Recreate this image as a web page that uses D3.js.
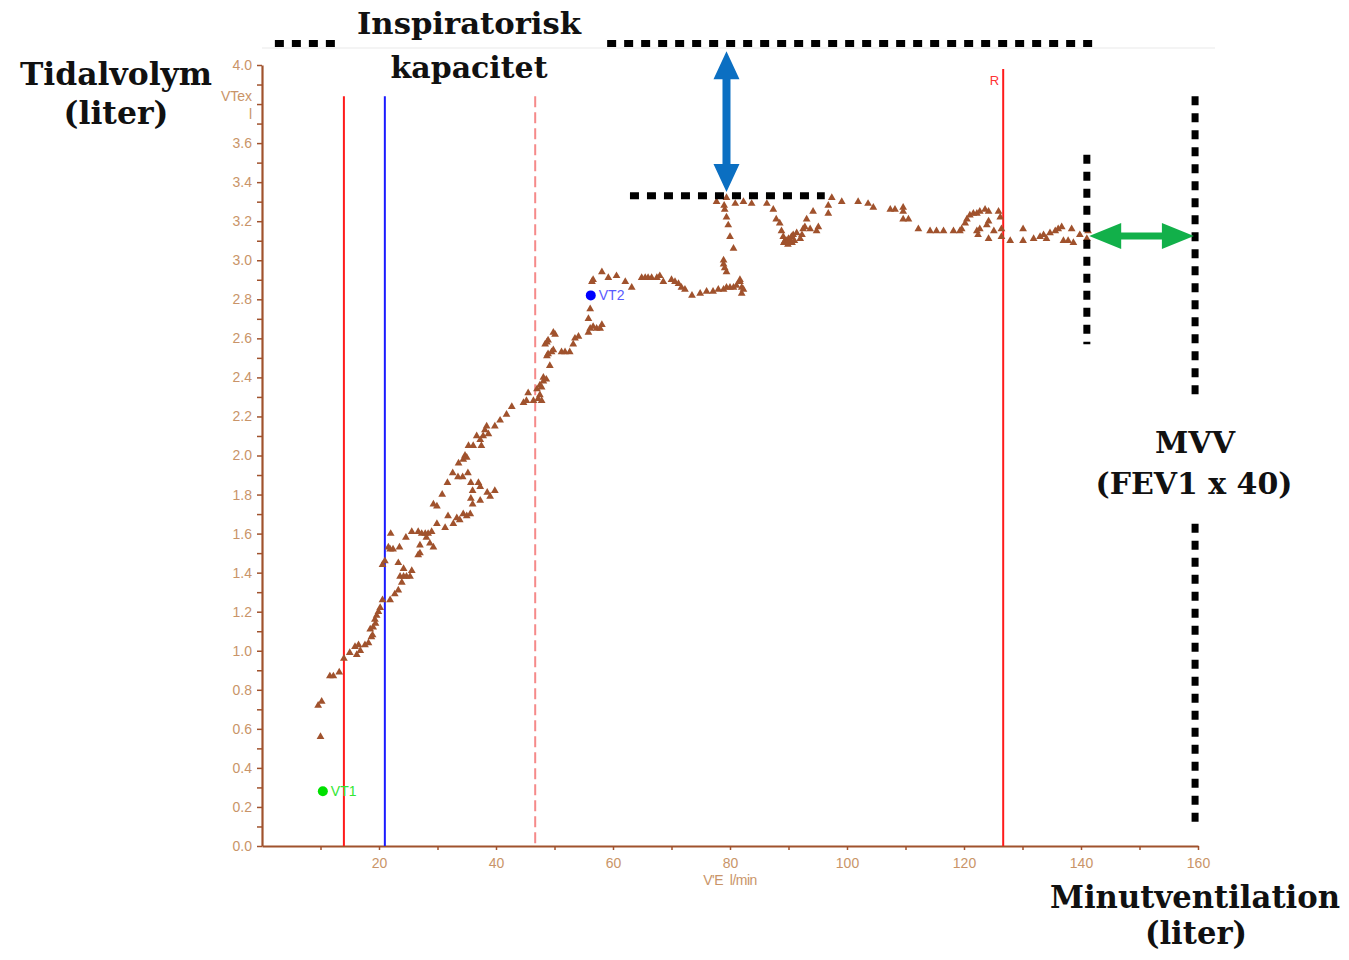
<!DOCTYPE html>
<html>
<head>
<meta charset="utf-8">
<script src="https://cdn.jsdelivr.net/npm/d3@7"></script>
<style>
  body { margin: 0; background: #fff; }
  svg { display: block; }
</style>
</head>
<body>
<svg id="chart" width="1349" height="960"></svg>
<script>
// V'E (l/min) and VTex (l) of every breath
const veValues = [
  10.0, 9.6, 10.2, 11.6, 12.2, 13.2, 14.0, 15.0, 15.9, 16.2, 16.5, 16.8, 17.6, 18.2, 18.7, 18.5, 18.9, 19.0, 19.3, 19.4,
  19.6, 19.9, 20.2, 20.6, 21.9, 22.7, 23.3, 23.9, 23.6, 24.2, 24.7, 25.3, 24.2, 25.6, 23.3, 20.6, 21.0, 21.9, 22.4, 21.6,
  23.5, 22.0, 24.6, 25.6, 26.7, 27.3, 27.9, 28.4, 29.0, 28.1, 28.7, 29.3, 27.0, 26.7, 27.0, 29.9, 31.3, 31.8, 32.7, 33.3,
  33.8, 34.4, 35.0, 35.6, 36.0, 29.3, 29.9,
  30.8, 31.7, 32.6, 33.5, 34.3, 35.2, 35.7, 36.0, 35.7, 37.0, 37.3, 38.5, 39.0, 39.8, 37.3,
  33.6, 34.4, 34.7, 35.0, 35.3, 36.1, 36.7, 37.3, 37.5, 37.8, 38.1, 38.4, 38.7,
  39.8, 40.7, 41.8, 42.7, 44.7, 45.2, 45.5,
  46.4, 47.2, 47.8, 47.5, 47.0, 47.5, 48.1, 48.6, 48.1, 47.8,
  49.2, 48.7, 48.9, 49.5, 49.8, 48.4, 48.7, 48.9, 49.8, 50.1, 51.2, 51.8, 52.6, 53.2, 53.5, 54.1, 55.8, 56.1, 56.6, 57.2,
  57.8, 58.1, 55.8, 56.1,
  56.4, 56.6, 58.1, 59.2, 60.6, 62.1, 63.2,
  64.9, 65.5, 66.0, 66.6, 67.5, 68.0, 68.6, 70.0, 70.6, 71.2, 71.7, 72.3, 73.5, 74.9, 76.0, 77.1, 78.0, 78.9, 79.4, 80.0,
  80.6, 81.1, 81.7, 82.0, 82.3, 82.0, 81.7,
  78.9, 79.1, 79.4, 78.9, 80.6, 80.0, 79.7, 79.4, 79.1, 79.0,
  77.7, 79.4, 80.9, 82.3, 83.7, 86.3, 87.4, 87.9, 88.5, 88.8, 89.1, 89.4, 89.7, 90.0, 90.3, 90.5, 90.8, 91.4, 92.0, 92.3,
  92.5, 92.8, 93.1, 93.7, 94.2, 94.8, 95.1, 89.2, 89.9, 90.6, 91.0,
  96.8, 96.8, 97.4, 99.1, 101.9, 103.6, 104.5, 107.4, 108.2, 109.6, 109.6, 109.6, 110.5, 112.2, 114.2, 115.3, 116.5, 118.2, 119.3, 119.6,
  120.2, 120.5, 121.0, 121.6, 122.2, 122.7, 123.6, 124.2, 125.9, 126.2, 126.4, 126.4, 127.9, 130.1, 130.1, 131.9, 133.0, 133.6, 134.1, 134.7,
  135.6, 136.1, 136.7, 138.4, 137.0, 137.8, 138.7, 141.0, 124.2, 123.9, 122.7, 122.2, 124.2, 125.1, 122.4, 139.8, 141.2
];
const vtValues = [
  0.56, 0.72, 0.74, 0.87, 0.87, 0.89, 0.96, 0.99, 1.02, 0.98, 1.03, 1.00, 1.03, 1.04, 1.07, 1.11, 1.08, 1.12, 1.16, 1.14,
  1.18, 1.20, 1.22, 1.26, 1.26, 1.29, 1.31, 1.35, 1.38, 1.38, 1.38, 1.38, 1.42, 1.41, 1.45, 1.44, 1.46, 1.52, 1.52, 1.53,
  1.53, 1.60, 1.58, 1.61, 1.61, 1.60, 1.60, 1.60, 1.61, 1.58, 1.55, 1.53, 1.54, 1.49, 1.50, 1.65, 1.63, 1.69, 1.65, 1.68,
  1.67, 1.70, 1.69, 1.70, 1.75, 1.75, 1.74,
  1.80, 1.86, 1.91, 1.89, 1.89, 1.91, 1.86, 1.82, 1.78, 1.86, 1.77, 1.81, 1.79, 1.82, 1.84,
  1.96, 1.98, 2.00, 1.99, 2.05, 2.05, 2.10, 2.08, 2.05, 2.10, 2.13, 2.15, 2.11,
  2.15, 2.18, 2.21, 2.25, 2.27, 2.28, 2.32,
  2.28, 2.29, 2.28, 2.31, 2.34, 2.36, 2.38, 2.39, 2.40, 2.35,
  2.46, 2.51, 2.52, 2.53, 2.54, 2.57, 2.58, 2.59, 2.63, 2.62, 2.53, 2.53, 2.53, 2.57, 2.60, 2.61, 2.63, 2.65, 2.66, 2.65,
  2.65, 2.67, 2.70, 2.75,
  2.89, 2.90, 2.94, 2.91, 2.92, 2.89, 2.86,
  2.91, 2.91, 2.91, 2.91, 2.91, 2.92, 2.89, 2.90, 2.89, 2.88, 2.86, 2.85, 2.82, 2.83, 2.84, 2.84, 2.85, 2.85, 2.86, 2.86,
  2.86, 2.87, 2.89, 2.86, 2.85, 2.83, 2.90,
  2.98, 2.96, 2.94, 3.00, 3.06, 3.12, 3.18, 3.22, 3.26, 3.28,
  3.30, 3.32, 3.29, 3.30, 3.29, 3.29, 3.26, 3.21, 3.19, 3.15, 3.12, 3.10, 3.10, 3.11, 3.10, 3.12, 3.13, 3.14, 3.11, 3.13,
  3.16, 3.17, 3.21, 3.16, 3.25, 3.15, 3.17, 3.09, 3.08, 3.09, 3.10,
  3.24, 3.28, 3.32, 3.30, 3.30, 3.29, 3.27, 3.26, 3.26, 3.27, 3.25, 3.21, 3.21, 3.16, 3.15, 3.15, 3.15, 3.15, 3.15, 3.16,
  3.19, 3.21, 3.23, 3.24, 3.24, 3.25, 3.26, 3.25, 3.25, 3.22, 3.16, 3.12, 3.10, 3.16, 3.10, 3.11, 3.12, 3.13, 3.11, 3.14,
  3.15, 3.16, 3.17, 3.16, 3.10, 3.10, 3.09, 3.11, 3.20, 3.18, 3.16, 3.15, 3.11, 3.15, 3.13, 3.13, 3.15
];

// vertical marker lines (V'E), top in VTex
const markerNames = ["VT1 line", "VT2 line", "RC", "R"];
const markerVe = [14, 21, 46.7, 126.7];
const markerTop = [3.84, 3.84, 3.84, 3.98];

// threshold points
const pointNames = ["VT1", "VT2"];
const pointVe = [10.4, 56.2];
const pointVt = [0.28, 2.82];

const xTicks = d3.range(10, 161, 10);
const yTicks = d3.range(0, 41).map(d => d / 10);

const svg = d3.select("#chart");
const x = d3.scaleLinear().domain([0, 160]).range([262, 1198]);
const y = d3.scaleLinear().domain([0, 4]).range([846, 65]);

const axisColor = "#a0522d", labelColor = "#c99468";
const sans = "Liberation Sans, Arial, sans-serif";

// faint frame line at the top of the original chart picture
svg.append("line")
    .attr("x1", 262).attr("x2", 1215).attr("y1", 48).attr("y2", 48)
    .attr("stroke", "#f0f0f0").attr("stroke-width", 1.5);

// axes
const yAxis = svg.append("g")
    .attr("transform", `translate(${x(0)},0)`)
    .call(d3.axisLeft(y).tickValues(yTicks).tickSize(5).tickPadding(5).tickSizeOuter(0)
        .tickFormat(d => {
            const k = Math.round(d * 10);
            return (k % 2 === 0 && k !== 38) ? d3.format(".1f")(d) : "";
        }));
const xAxis = svg.append("g")
    .attr("transform", `translate(0,${y(0)})`)
    .call(d3.axisBottom(x).tickValues(xTicks).tickSize(4).tickPadding(8).tickSizeOuter(0)
        .tickFormat(d => d % 20 === 0 ? d : ""));

[yAxis, xAxis].forEach(g => {
    g.select(".domain").attr("stroke", axisColor).attr("stroke-width", 2.2);
    g.selectAll(".tick line").attr("stroke", axisColor).attr("stroke-width", 1.5);
    g.selectAll(".tick text")
        .attr("fill", labelColor)
        .attr("font-family", sans)
        .attr("font-size", 14);
});

// axis titles
svg.append("text")
    .attr("x", x(0) - 10).attr("y", y(3.8) - 3)
    .attr("text-anchor", "end").attr("fill", labelColor)
    .attr("font-family", sans).attr("font-size", 14)
    .text("VTex");
svg.append("text")
    .attr("x", x(0) - 10).attr("y", y(3.7) - 5)
    .attr("text-anchor", "end").attr("fill", labelColor)
    .attr("font-family", sans).attr("font-size", 14)
    .text("l");
svg.append("text")
    .attr("x", x(80)).attr("y", y(0) + 39)
    .attr("text-anchor", "middle").attr("fill", labelColor)
    .attr("font-family", sans).attr("font-size", 14)
    .attr("letter-spacing", -0.5)
    .text("V'E\u00a0\u00a0l/min");

// marker lines
const markerColor = ["#ff1a1a", "#1a1aff", "#f58a8a", "#ff1a1a"];
svg.append("g").selectAll("line")
    .data(markerNames)
    .join("line")
    .attr("x1", (d, i) => x(markerVe[i])).attr("x2", (d, i) => x(markerVe[i]))
    .attr("y1", (d, i) => y(markerTop[i])).attr("y2", y(0))
    .attr("stroke", (d, i) => markerColor[i])
    .attr("stroke-width", 2)
    .attr("stroke-dasharray", d => d === "RC" ? "11,5" : null);

svg.append("text")
    .attr("x", x(markerVe[3]) - 4).attr("y", y(3.98) + 16)
    .attr("text-anchor", "end").attr("fill", "#ff3333")
    .attr("font-family", sans).attr("font-size", 13)
    .text("R");

// breaths
const tri = d3.symbol().type(d3.symbolTriangle).size(26);
svg.append("g").selectAll("path")
    .data(veValues)
    .join("path")
    .attr("transform", (d, i) => `translate(${x(d)},${y(vtValues[i])})`)
    .attr("d", tri)
    .attr("fill", "#a0522d");

// VT1 / VT2
const pointColor = ["#00e000", "#0000ff"];
const pointLabelColor = ["#33e633", "#5a5aff"];
svg.append("g").selectAll("circle")
    .data(pointNames)
    .join("circle")
    .attr("cx", (d, i) => x(pointVe[i])).attr("cy", (d, i) => y(pointVt[i]))
    .attr("r", 5)
    .attr("fill", (d, i) => pointColor[i]);
svg.append("g").selectAll("text")
    .data(pointNames)
    .join("text")
    .attr("x", (d, i) => x(pointVe[i]) + 8).attr("y", (d, i) => y(pointVt[i]) + 5)
    .attr("fill", (d, i) => pointLabelColor[i])
    .attr("font-family", sans).attr("font-size", 14)
    .text(d => d);

// annotations: dotted lines (in chart units)
const dotted = [
    [2.2, 4.11, 13.3, 4.11],
    [59.0, 4.11, 142.4, 4.11],
    [62.9, 3.33, 96.2, 3.33],
    [141.0, 3.54, 141.0, 2.57],
    [159.5, 3.84, 159.5, 2.28],
    [159.5, 1.65, 159.5, 0.09]
];
svg.append("g").selectAll("line")
    .data(dotted)
    .join("line")
    .attr("x1", d => x(d[0])).attr("y1", d => y(d[1]))
    .attr("x2", d => x(d[2])).attr("y2", d => y(d[3]))
    .attr("stroke", "#000").attr("stroke-width", 7)
    .attr("stroke-dasharray", "9,8");

// double arrows
function doubleArrow(x1, y1, x2, y2, color, shaft, headW, headL) {
    const len = Math.hypot(x2 - x1, y2 - y1);
    const ang = Math.atan2(y2 - y1, x2 - x1) * 180 / Math.PI;
    const s = shaft / 2, h = headW / 2;
    const pts = [
        [0, 0], [headL, -h], [headL, -s], [len - headL, -s], [len - headL, -h],
        [len, 0], [len - headL, h], [len - headL, s], [headL, s], [headL, h]
    ];
    svg.append("path")
        .attr("transform", `translate(${x1},${y1}) rotate(${ang})`)
        .attr("d", d3.line()(pts) + "Z")
        .attr("fill", color);
}
doubleArrow(x(79.4), y(4.07), x(79.4), y(3.35), "#0b6fc2", 8, 26, 28);
doubleArrow(x(141.4), y(3.124), x(159.3), y(3.124), "#12b04a", 7, 26, 32);

// annotation texts
const serif = "DejaVu Serif, Liberation Serif, serif";
const notes = [
    ["Tidalvolym", 116, 85, 192, 31],
    ["(liter)", 116, 124, 105, 31],
    ["Inspiratorisk", 469, 34, 224, 30],
    ["kapacitet", 469, 78, 157, 30],
    ["MVV", 1195, 453, 80, 30],
    ["(FEV1 x 40)", 1194, 494, 197, 30],
    ["Minutventilation", 1195, 908, 290, 31],
    ["(liter)", 1196, 944, 102, 31]
];
svg.append("g").selectAll("text")
    .data(notes)
    .join("text")
    .attr("x", d => d[1]).attr("y", d => d[2])
    .attr("text-anchor", "middle")
    .attr("font-family", serif).attr("font-weight", "bold")
    .attr("font-size", d => d[4])
    .attr("textLength", d => d[3]).attr("lengthAdjust", "spacingAndGlyphs")
    .attr("fill", "#111")
    .text(d => d[0]);
</script>
</body>
</html>
